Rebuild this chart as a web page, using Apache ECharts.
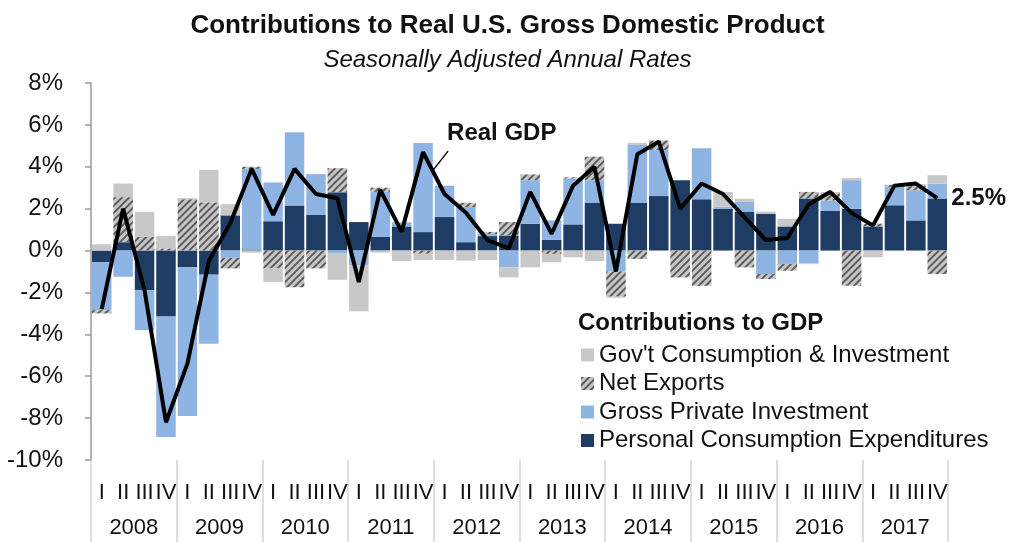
<!DOCTYPE html>
<html>
<head>
<meta charset="utf-8">
<title>Contributions to Real U.S. GDP</title>
<script src="https://cdn.jsdelivr.net/npm/echarts@6/dist/echarts.min.js"></script>
<style>
	html, body { margin: 0; padding: 0; background: #fff; }
	#chartmain { width: 1015px; height: 542px; }
</style>
</head>
<body>
<div id="chartmain"></div>
<script>
// tick labels
var years = ['2008', '2009', '2010', '2011', '2012', '2013', '2014', '2015', '2016', '2017'];
var quarterNames = ['I', 'II', 'III', 'IV'];

// contributions (percentage points, SAAR), 2008 Q1 .. 2017 Q4
var pce = [-0.55, 0.4, -1.9, -3.15, -0.8, -1.15, 1.68, 0.05,
	1.4, 2.15, 1.7, 2.78, 1.36, 0.65, 1.15, 0.88,
	1.6, 0.4, 0.69, 0.72, 1.28, 0.51, 1.25, 2.27,
	1.28, 2.27, 2.6, 3.36, 2.45, 2.0, 1.84, 1.76,
	1.15, 2.48, 1.89, 2.0, 1.15, 2.16, 1.44, 2.48];
var invest = [-2.3, -1.25, -1.9, -5.75, -7.1, -3.3, -0.35, 3.85,
	1.85, 3.5, 1.95, -0.15, -0.7, 2.15, 0.2, 4.25,
	1.5, 1.68, 0.1, -0.8, 2.08, 0.93, 2.19, 1.09,
	-1.0, 2.77, 2.2, 0.0, 2.43, 0.1, 0.48, -1.12,
	-0.64, -0.6, 0.5, 1.36, 0.0, 0.88, 1.44, 0.72];
var netExports = [-0.15, 2.15, 0.65, 0.1, 2.45, 2.3, -0.5, 0.1,
	-0.85, -1.75, -0.85, 1.15, 0.0, 0.2, 0.0, -0.15,
	0.0, 0.2, 0.1, 0.64, 0.27, -0.16, 0.05, 1.12,
	-1.2, -0.4, 0.45, -1.28, -1.68, 0.0, -0.8, -0.24,
	-0.32, 0.32, 0.35, -1.68, 0.13, 0.1, 0.2, -1.12];
var govt = [0.3, 0.65, 1.2, 0.6, 0.05, 1.55, 0.53, -0.1,
	-0.65, 0.0, 0.0, -1.25, -2.2, -0.1, -0.5, -0.3,
	-0.45, -0.48, -0.45, -0.48, -0.8, -0.4, -0.32, -0.5,
	-0.05, 0.1, 0.0, 0.0, 0.0, 0.7, 0.15, 0.1,
	0.37, -0.05, 0.05, 0.1, -0.32, 0.0, 0.1, 0.4];
var realGdp = [-2.8, 2.0, -1.9, -8.2, -5.4, -0.5, 1.3, 3.9,
	1.7, 3.9, 2.7, 2.5, -1.5, 2.9, 0.9, 4.7,
	2.7, 1.8, 0.5, 0.1, 2.8, 0.8, 3.1, 4.0,
	-1.0, 4.6, 5.2, 2.0, 3.2, 2.7, 1.6, 0.5,
	0.6, 2.2, 2.8, 1.8, 1.2, 3.1, 3.2, 2.5];

var peakIndex = 15; // "Real GDP" callout sits on 2011 Q4

var quarters = [];
for (var y = 0; y < years.length; y++) {
	for (var q = 0; q < quarterNames.length; q++) {
		quarters.push(quarterNames[q]);
	}
}

var font = 'Liberation Sans, Arial, sans-serif';

var option = {
	animation : false,
	textStyle : { fontFamily : font },
	title : [ {
		text : 'Contributions to Real U.S. Gross Domestic Product',
		left : 'center',
		top : 8,
		textStyle : { fontFamily : font, fontSize : 26, fontWeight : 'bold', color : '#111' }
	}, {
		text : 'Seasonally Adjusted Annual Rates',
		left : 'center',
		top : 43,
		textStyle : { fontFamily : font, fontSize : 24, fontStyle : 'italic', fontWeight : 'normal', color : '#111' }
	}, {
		text : 'Contributions to GDP',
		left : 573,
		top : 306,
		textStyle : { fontFamily : font, fontSize : 24, fontWeight : 'bold', color : '#111' }
	} ],
	legend : {
		orient : 'vertical',
		left : 576,
		top : 338,
		icon : 'rect',
		itemWidth : 13,
		itemHeight : 13,
		itemGap : 4.5,
		selectedMode : false,
		data : [ "Gov't Consumption & Investment", 'Net Exports', 'Gross Private Investment', 'Personal Consumption Expenditures' ],
		textStyle : { fontFamily : font, fontSize : 24, color : '#111', lineHeight : 24 }
	},
	grid : {
		left : 91,
		right : 67,
		top : 83,
		bottom : 82
	},
	xAxis : [ {
		type : 'category',
		data : quarters,
		position : 'bottom',
		axisLine : { show : false, onZero : false },
		axisTick : { show : false },
		axisLabel : { interval : 0, fontSize : 22, margin : 22, color : '#111', fontFamily : font }
	}, {
		type : 'category',
		data : years,
		position : 'bottom',
		axisLine : { show : false, onZero : false },
		axisTick : { show : true, length : 82, lineStyle : { color : '#d4d4d4', width : 1.5 } },
		axisLabel : { interval : 0, fontSize : 22, margin : 57, color : '#111', fontFamily : font },
		splitLine : { show : false }
	} ],
	yAxis : {
		type : 'value',
		min : -10,
		max : 8,
		interval : 2,
		axisLine : { show : true, lineStyle : { color : '#9a9a9a', width : 1.5 } },
		axisTick : { show : true, length : 6, lineStyle : { color : '#9a9a9a', width : 1.5 } },
		splitLine : { show : false },
		axisLabel : { formatter : '{value}%', fontSize : 24, margin : 28, color : '#111', fontFamily : font }
	},
	series : [ {
		name : 'Personal Consumption Expenditures',
		type : 'bar',
		stack : 'gdp',
		stackStrategy : 'samesign',
		barCategoryGap : '9%',
		itemStyle : { color : '#1f3c64' },
		data : pce
	}, {
		name : 'Gross Private Investment',
		type : 'bar',
		stack : 'gdp',
		stackStrategy : 'samesign',
		itemStyle : { color : '#8eb4e3' },
		data : invest
	}, {
		name : 'Net Exports',
		type : 'bar',
		stack : 'gdp',
		stackStrategy : 'samesign',
		itemStyle : {
			color : '#c6c6c6',
			decal : {
				symbol : 'rect',
				symbolSize : 1,
				dashArrayX : [ [ 1, 0 ] ],
				dashArrayY : [ 2, 3 ],
				rotation : -Math.PI / 4,
				color : '#5e5e5e'
			}
		},
		data : netExports
	}, {
		name : "Gov't Consumption & Investment",
		type : 'bar',
		stack : 'gdp',
		stackStrategy : 'samesign',
		itemStyle : { color : '#c8c8c8' },
		data : govt
	}, {
		name : 'Real GDP',
		type : 'line',
		data : realGdp,
		symbol : 'none',
		z : 5,
		lineStyle : { color : '#000', width : 4 },
		endLabel : {
			show : true,
			distance : 14,
			formatter : function(p) { return p.value + '%'; },
			fontFamily : font,
			fontSize : 24,
			fontWeight : 'bold',
			color : '#111'
		}
	} ]
};

var myChart = echarts.init(document.getElementById('chartmain'));
myChart.setOption(option);

// Real GDP callout, placed from the data point
var pt = myChart.convertToPixel({ gridIndex : 0 }, [ peakIndex, realGdp[peakIndex] ]);
myChart.setOption({
	graphic : [ {
		type : 'line',
		shape : { x1 : pt[0] + 25, y1 : pt[1] - 1, x2 : pt[0] + 10, y2 : pt[1] + 18 },
		style : { stroke : '#000', lineWidth : 1.5 },
		z : 10
	}, {
		type : 'text',
		x : pt[0] + 24,
		y : pt[1] - 19,
		style : {
			text : 'Real GDP',
			fill : '#111',
			font : 'bold 24px ' + font,
			verticalAlign : 'middle'
		},
		z : 10
	} ]
});
</script>
</body>
</html>
